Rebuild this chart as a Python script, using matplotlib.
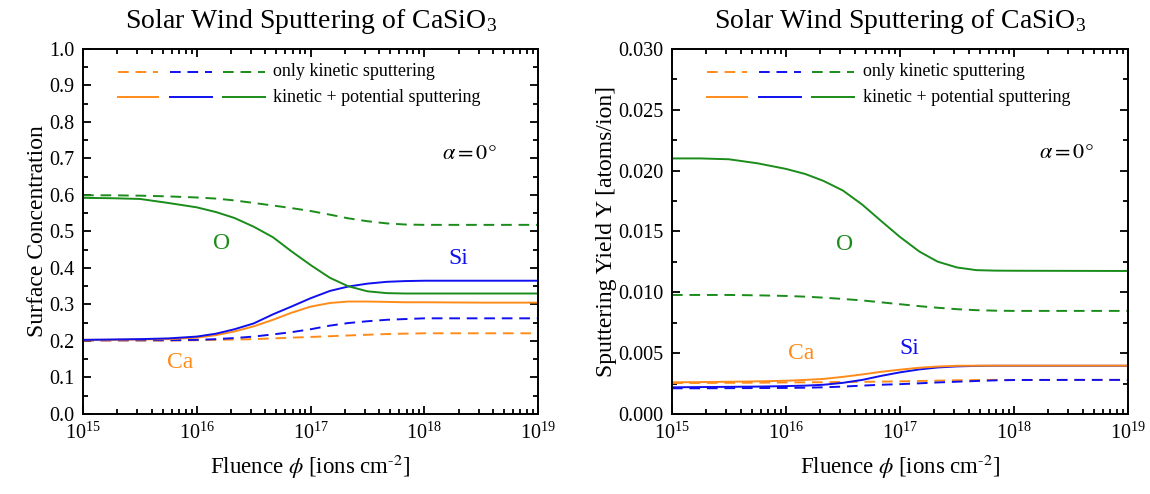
import numpy as np
import matplotlib
matplotlib.use("Agg")
import matplotlib.pyplot as plt
from matplotlib.lines import Line2D
from matplotlib.ticker import MultipleLocator, LogLocator, FormatStrFormatter, NullFormatter

plt.rcParams['font.family'] = ['Liberation Serif', 'DejaVu Serif']
plt.rcParams['mathtext.fontset'] = 'stix'

# log10 of fluence (ions cm^-2)
log_fluence = [15.0, 15.25, 15.5, 15.75, 16.0, 16.17, 16.33, 16.5, 16.67, 16.83,
               17.0, 17.17, 17.33, 17.5, 17.67, 17.83, 18.0, 18.5, 19.0]

# Surface concentration, kinetic + potential sputtering
conc_O_kp  = [0.592, 0.591, 0.589, 0.578, 0.566, 0.553, 0.537, 0.513, 0.484, 0.446,
              0.408, 0.373, 0.350, 0.336, 0.331, 0.330, 0.330, 0.330, 0.330]
conc_Si_kp = [0.203, 0.204, 0.205, 0.207, 0.212, 0.220, 0.232, 0.248, 0.273, 0.294,
              0.317, 0.337, 0.349, 0.357, 0.362, 0.364, 0.365, 0.365, 0.365]
conc_Ca_kp = [0.203, 0.203, 0.204, 0.205, 0.209, 0.216, 0.226, 0.240, 0.258, 0.277,
              0.294, 0.304, 0.308, 0.308, 0.307, 0.306, 0.306, 0.305, 0.305]
# Surface concentration, only kinetic sputtering
conc_O_k   = [0.599, 0.599, 0.598, 0.596, 0.593, 0.590, 0.585, 0.578, 0.571, 0.564,
              0.556, 0.546, 0.536, 0.528, 0.522, 0.519, 0.518, 0.518, 0.518]
conc_Si_k  = [0.202, 0.202, 0.202, 0.202, 0.203, 0.205, 0.208, 0.212, 0.218, 0.224,
              0.232, 0.242, 0.249, 0.254, 0.258, 0.260, 0.262, 0.262, 0.262]
conc_Ca_k  = [0.201, 0.201, 0.201, 0.201, 0.202, 0.203, 0.204, 0.205, 0.207, 0.209,
              0.211, 0.213, 0.215, 0.217, 0.219, 0.220, 0.221, 0.221, 0.221]

# Sputtering yield (atoms/ion), kinetic + potential sputtering
yield_O_kp  = [0.0210, 0.0210, 0.02093, 0.0206, 0.02014, 0.01972, 0.01915, 0.01836, 0.0172, 0.0159,
               0.01455, 0.01335, 0.01252, 0.01204, 0.01182, 0.01178, 0.01177, 0.01176, 0.01175]
yield_Si_kp = [0.00219, 0.00221, 0.00223, 0.00225, 0.00229, 0.00233, 0.0024, 0.00256, 0.0028, 0.00312,
               0.00342, 0.00366, 0.00382, 0.00391, 0.00395, 0.00396, 0.00396, 0.00396, 0.00396]
yield_Ca_kp = [0.0026, 0.00262, 0.00265, 0.00268, 0.00273, 0.0028, 0.00288, 0.00305, 0.00325, 0.00346,
               0.00364, 0.0038, 0.0039, 0.00396, 0.00397, 0.00397, 0.00397, 0.00397, 0.00397]
# Sputtering yield (atoms/ion), only kinetic sputtering
yield_O_k   = [0.00978, 0.00978, 0.00978, 0.00975, 0.0097, 0.00964, 0.00956, 0.00945, 0.00933, 0.00918,
               0.00902, 0.00886, 0.00873, 0.00861, 0.00853, 0.00849, 0.00847, 0.00847, 0.00847]
yield_Si_k  = [0.00211, 0.00211, 0.00212, 0.00213, 0.00214, 0.00216, 0.00219, 0.00225, 0.00233, 0.0024,
               0.00245, 0.00252, 0.00259, 0.00265, 0.00271, 0.00276, 0.00279, 0.0028, 0.0028]
yield_Ca_k  = [0.00254, 0.00255, 0.00256, 0.00257, 0.00259, 0.0026, 0.00261, 0.00263, 0.00264, 0.00266,
               0.00268, 0.00271, 0.00274, 0.00277, 0.00279, 0.0028, 0.0028, 0.0028, 0.0028]

C_CA = '#ff8c1a'
C_SI = '#1010ee'
C_O = '#1a8c1a'
DASH = (0, (5.5, 3.5))
LW = 1.4

fluence = 10.0 ** np.array(log_fluence)

fig = plt.figure(figsize=(11.5, 4.94), dpi=100)
ax1 = fig.add_axes([0.0722, 0.162, 0.3957, 0.739])
ax2 = fig.add_axes([0.5843, 0.162, 0.3965, 0.739])


def style_axes(ax):
    ax.set_xscale('log')
    ax.set_xlim(1e15, 1e19)
    ax.xaxis.set_major_locator(LogLocator(base=10, numticks=10))
    ax.xaxis.set_minor_locator(LogLocator(base=10, subs=np.arange(2, 10), numticks=20))
    ax.xaxis.set_minor_formatter(NullFormatter())
    ax.tick_params(which='both', direction='in', top=True, right=True, width=1.3,
                   labelsize=14.5, pad=6)
    ax.tick_params(which='major', length=6)
    ax.tick_params(which='minor', length=3.5)
    for sp in ax.spines.values():
        sp.set_linewidth(1.4)
    ax.set_xlabel('Fluence $\\phi$ [ions cm$^{\\mathregular{\u2010}2}$]', fontsize=16.5, labelpad=7)
    ax.set_title(r'Solar Wind Sputtering of CaSiO$_{\mathregular{3}}$', fontsize=20, pad=15)


def legend_rows(ax):
    rows = [(DASH, 'only kinetic sputtering', 0.937), ('-', 'kinetic + potential sputtering', 0.868)]
    segs = [(0.077, 0.165, C_CA), (0.192, 0.284, C_SI), (0.308, 0.400, C_O)]
    for ls, label, yy in rows:
        for x0, x1, c in segs:
            ax.add_line(Line2D([x0, x1], [yy, yy], transform=ax.transAxes, color=c,
                               lw=LW, linestyle=ls))
        ax.text(0.418, yy, label, transform=ax.transAxes, fontsize=13, va='center', ha='left')


# Left: surface concentration
style_axes(ax1)
ax1.plot(fluence, conc_Ca_k, color=C_CA, lw=LW, linestyle=DASH)
ax1.plot(fluence, conc_Si_k, color=C_SI, lw=LW, linestyle=DASH)
ax1.plot(fluence, conc_O_k, color=C_O, lw=LW, linestyle=DASH)
ax1.plot(fluence, conc_Ca_kp, color=C_CA, lw=LW)
ax1.plot(fluence, conc_Si_kp, color=C_SI, lw=LW)
ax1.plot(fluence, conc_O_kp, color=C_O, lw=LW)
ax1.set_ylim(0, 1.0)
ax1.yaxis.set_major_locator(MultipleLocator(0.1))
ax1.yaxis.set_minor_locator(MultipleLocator(0.05))
ax1.yaxis.set_major_formatter(FormatStrFormatter('%.1f'))
ax1.set_ylabel('Surface Concentration', fontsize=17, labelpad=1)
legend_rows(ax1)
ax1.text(1.66e16, 0.466, 'O', color=C_O, fontsize=17, ha='center', va='center')
ax1.text(2.0e18, 0.427, 'Si', color=C_SI, fontsize=17, ha='center', va='center')
ax1.text(7.1e15, 0.142, 'Ca', color=C_CA, fontsize=17, ha='center', va='center')
ax1.text(2.5e18, 0.710, r'$\alpha = 0°$', fontsize=16, ha='center', va='center')

# Right: sputtering yield
style_axes(ax2)
ax2.plot(fluence, yield_Ca_k, color=C_CA, lw=LW, linestyle=DASH)
ax2.plot(fluence, yield_Si_k, color=C_SI, lw=LW, linestyle=DASH)
ax2.plot(fluence, yield_O_k, color=C_O, lw=LW, linestyle=DASH)
ax2.plot(fluence, yield_Si_kp, color=C_SI, lw=LW)
ax2.plot(fluence, yield_Ca_kp, color=C_CA, lw=LW)
ax2.plot(fluence, yield_O_kp, color=C_O, lw=LW)
ax2.set_ylim(0, 0.030)
ax2.yaxis.set_major_locator(MultipleLocator(0.005))
ax2.yaxis.set_minor_locator(MultipleLocator(0.0025))
ax2.yaxis.set_major_formatter(FormatStrFormatter('%.3f'))
ax2.set_ylabel('Sputtering Yield Y [atoms/ion]', fontsize=17, labelpad=1)
legend_rows(ax2)
ax2.text(3.3e16, 0.0139, 'O', color=C_O, fontsize=17, ha='center', va='center')
ax2.text(1.35e16, 0.0050, 'Ca', color=C_CA, fontsize=17, ha='center', va='center')
ax2.text(1.2e17, 0.00542, 'Si', color=C_SI, fontsize=17, ha='center', va='center')
ax2.text(2.9e18, 0.0214, r'$\alpha = 0°$', fontsize=16, ha='center', va='center')

fig.savefig('out.png', dpi=100)
